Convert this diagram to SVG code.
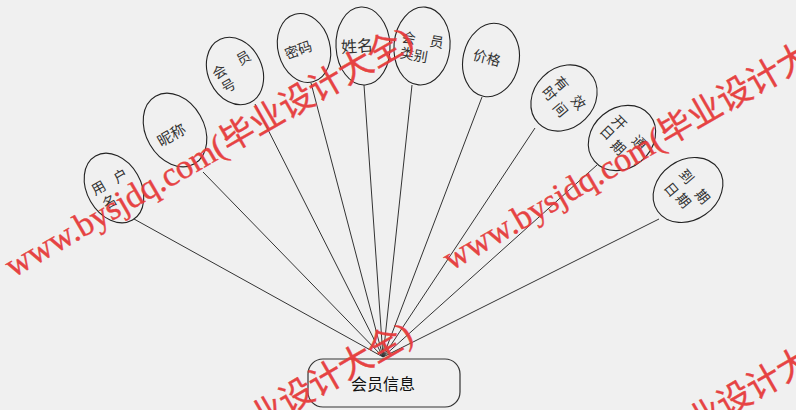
<svg xmlns="http://www.w3.org/2000/svg" width="796" height="410" viewBox="0 0 796 410">
<style>
.bg{fill:#f0f0f0}
.attr{fill:none;stroke:#222;stroke-width:1.1}
.conn{stroke:#333;stroke-width:1;fill:none}
.lbl{font-family:"Noto Sans CJK SC","Noto Sans",sans-serif;font-size:14px;fill:#333;text-anchor:middle;dominant-baseline:central}
.ent{fill:#f0f0f0;stroke:#333;stroke-width:1.2}
.entt{font-family:"Noto Sans CJK SC","Noto Sans",sans-serif;font-size:16px;fill:#111;text-anchor:middle;dominant-baseline:central}
.wm{font-family:"Liberation Serif","Noto Sans CJK SC",serif;font-size:34px;fill:#e63a3a;stroke:#e63a3a;stroke-width:0.4;opacity:0.95}
</style>
<rect class="bg" x="0" y="0" width="796" height="410"/>
<g id="connectors">
<line class="conn" x1="383" y1="357" x2="134" y2="219"/>
<line class="conn" x1="383" y1="357" x2="203" y2="172"/>
<line class="conn" x1="383" y1="357" x2="255" y2="104"/>
<line class="conn" x1="383" y1="357" x2="311" y2="83"/>
<line class="conn" x1="383" y1="357" x2="364" y2="85"/>
<line class="conn" x1="383" y1="357" x2="412" y2="85"/>
<line class="conn" x1="383" y1="357" x2="482" y2="97"/>
<line class="conn" x1="383" y1="357" x2="535" y2="128"/>
<line class="conn" x1="383" y1="357" x2="597" y2="165"/>
<line class="conn" x1="383" y1="357" x2="659" y2="219"/>
</g>
<g id="node-username">
<ellipse class="attr" cx="114" cy="188" rx="27" ry="37" transform="rotate(-30 114 188)"/>
<text class="lbl" x="98" y="187" transform="rotate(-30 98 187)">用</text>
<text class="lbl" x="120" y="175" transform="rotate(-30 120 175)">户</text>
<text class="lbl" x="109" y="201" transform="rotate(-30 109 201)">名</text>
</g>
<g id="node-nickname">
<ellipse class="attr" cx="175" cy="130" rx="29" ry="39" transform="rotate(-30 175 130)"/>
<text class="lbl" x="171" y="134" transform="rotate(-30 171 134)" style="font-size:15px">昵称</text>
</g>
<g id="node-memberno">
<ellipse class="attr" cx="235" cy="71" rx="27" ry="35" transform="rotate(-25 235 71)"/>
<text class="lbl" x="219" y="71" transform="rotate(-30 219 71)">会</text>
<text class="lbl" x="243" y="57" transform="rotate(-30 243 57)">员</text>
<text class="lbl" x="228" y="85" transform="rotate(-30 228 85)">号</text>
</g>
<g id="node-password">
<ellipse class="attr" cx="304" cy="48" rx="26" ry="35" transform="rotate(-15 304 48)"/>
<text class="lbl" x="298" y="49" transform="rotate(-20 298 49)">密码</text>
</g>
<g id="node-name">
<ellipse class="attr" cx="363" cy="46" rx="27" ry="39" transform="rotate(-3 363 46)"/>
<text class="lbl" x="357" y="45" transform="rotate(-4 357 45)" style="font-size:16px">姓名</text>
</g>
<g id="node-membertype">
<ellipse class="attr" cx="422" cy="46" rx="28" ry="39" transform="rotate(5 422 46)"/>
<text class="lbl" x="409" y="37" transform="rotate(10 409 37)">会</text>
<text class="lbl" x="437" y="41" transform="rotate(10 437 41)">员</text>
<text class="lbl" x="414" y="54" transform="rotate(10 414 54)">类别</text>
</g>
<g id="node-price">
<ellipse class="attr" cx="491" cy="60" rx="28" ry="37" transform="rotate(12 491 60)"/>
<text class="lbl" x="487" y="57" transform="rotate(15 487 57)">价格</text>
</g>
<g id="node-validtime">
<ellipse class="attr" cx="564" cy="98" rx="30" ry="36" transform="rotate(45 564 98)"/>
<text class="lbl" x="562" y="83" transform="rotate(50 562 83)">有</text>
<text class="lbl" x="579" y="102" transform="rotate(50 579 102)">效</text>
<text class="lbl" x="550" y="93" transform="rotate(50 550 93)">时</text>
<text class="lbl" x="561" y="109" transform="rotate(50 561 109)">间</text>
</g>
<g id="node-opendate">
<ellipse class="attr" cx="622" cy="138" rx="30" ry="36" transform="rotate(50 622 138)"/>
<text class="lbl" x="620" y="122" transform="rotate(45 620 122)">开</text>
<text class="lbl" x="640" y="142" transform="rotate(45 640 142)">通</text>
<text class="lbl" x="608" y="132" transform="rotate(45 608 132)">日</text>
<text class="lbl" x="619" y="147" transform="rotate(45 619 147)">期</text>
</g>
<g id="node-expiredate">
<ellipse class="attr" cx="688" cy="190" rx="30" ry="37" transform="rotate(55 688 190)"/>
<text class="lbl" x="687" y="176" transform="rotate(50 687 176)">到</text>
<text class="lbl" x="703" y="196" transform="rotate(50 703 196)">期</text>
<text class="lbl" x="672" y="189" transform="rotate(50 672 189)">日</text>
<text class="lbl" x="684" y="200" transform="rotate(50 684 200)">期</text>
</g>
<g id="node-memberinfo">
<rect class="ent" x="308" y="359" width="152" height="48" rx="15"/>
<text class="entt" x="383" y="383">会员信息</text>
</g>
<g id="watermarks">
<text class="wm" transform="translate(13 278) rotate(-30)" x="0" y="0">www.bysjdq.com(毕业设计大全)</text>
<text class="wm" transform="translate(451 271) rotate(-30)" x="0" y="0">www.bysjdq.com(毕业设计大全)</text>
<text class="wm" transform="translate(13 573) rotate(-30)" x="0" y="0">www.bysjdq.com(毕业设计大全)</text>
<text class="wm" transform="translate(451 576) rotate(-30)" x="0" y="0">www.bysjdq.com(毕业设计大全)</text>
</g>
</svg>
